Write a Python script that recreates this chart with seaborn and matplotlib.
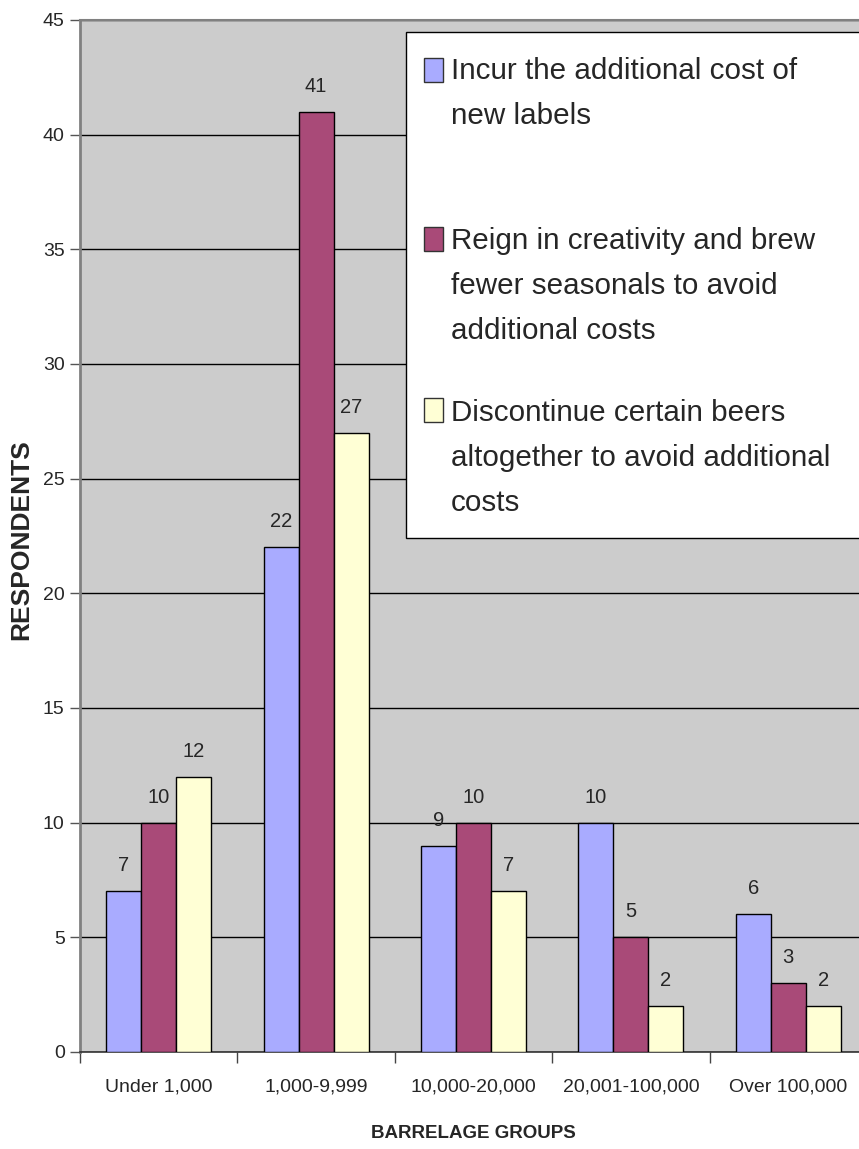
import matplotlib
matplotlib.use("Agg")
import matplotlib.pyplot as plt
from matplotlib import font_manager
from matplotlib.patches import Rectangle
import seaborn as sns
import pandas as pd

# --- dati ---
groups = ["Under 1,000", "1,000-9,999", "10,000-20,000", "20,001-100,000", "Over 100,000"]
responses = [
    "Incur the additional cost of\nnew labels",
    "Reign in creativity and brew\nfewer seasonals to avoid\nadditional costs",
    "Discontinue certain beers\naltogether to avoid additional\ncosts",
]
incur = [7, 22, 9, 10, 6]
reign = [10, 41, 10, 5, 3]
discontinue = [12, 27, 7, 2, 2]
bar_colors = ["#A9ABFF", "#A94A78", "#FFFFD5"]
y_ticks = list(range(0, 46, 5))


def pick_font(names):
    for n in names:
        try:
            font_manager.findfont(n, fallback_to_default=False)
            return n
        except ValueError:
            pass
    return "DejaVu Sans"


sns.set_style("ticks")
FONT = pick_font(["Liberation Sans", "Arial"])
plt.rcParams["font.family"] = [FONT, "DejaVu Sans"]

df = pd.DataFrame({
    "group": groups * 3,
    "response": [responses[0]] * 5 + [responses[1]] * 5 + [responses[2]] * 5,
    "value": incur + reign + discontinue,
})

W, H = 859, 1149
fig = plt.figure(figsize=(W / 100, H / 100), dpi=100, facecolor="white")
ax = fig.add_axes([80 / W, 1 - 1052 / H, 787 / W, 1032 / H])

sns.barplot(data=df, x="group", y="value", hue="response", order=groups,
            hue_order=responses, palette=bar_colors, saturation=1,
            width=0.667, gap=0, edgecolor="black", linewidth=1,
            legend=False, ax=ax, zorder=3)

ax.set_facecolor("#CCCCCC")
ax.set_xlim(-0.5, 4.5)
ax.set_ylim(0, 45)
ax.set_yticks(y_ticks)
ax.yaxis.grid(True, color="black", linewidth=1)
ax.xaxis.grid(False)
ax.set_axisbelow(True)
ax.set_xlabel("")
ax.set_ylabel("")

ax.set_xticks(range(len(groups)))
ax.set_xticklabels(groups)
ax.set_xticks([i - 0.5 for i in range(len(groups) + 1)], minor=True)
ax.tick_params(axis="x", which="major", length=0, pad=19, labelsize=14)
ax.tick_params(axis="x", which="minor", length=8, width=1, color="#444444")
ax.tick_params(axis="y", length=7, width=1, color="#555555", pad=4, labelsize=14)

ax.spines["left"].set_color("#808080")
ax.spines["left"].set_linewidth(2)
ax.spines["top"].set_color("#808080")
ax.spines["top"].set_linewidth(1.5)
ax.spines["bottom"].set_color("#333333")
ax.spines["bottom"].set_linewidth(1.2)
ax.spines["right"].set_visible(False)

for cont in ax.containers:
    ax.bar_label(cont, fmt="%d", padding=11.5, fontsize=14.5)

# titoli assi
fig.text(473 / W, 1 - 1133 / H, "BARRELAGE GROUPS", ha="center", va="center",
         fontsize=13.5, fontweight="bold")
fig.text(21 / W, 1 - 540 / H, "RESPONDENTS", ha="center", va="center",
         rotation=90, fontsize=19, fontweight="bold")

# legenda disegnata a mano (stile Excel)
fig.add_artist(Rectangle((406 / W, 1 - 538 / H), (880 - 406) / W, (538 - 32) / H,
                         transform=fig.transFigure, facecolor="white",
                         edgecolor="black", linewidth=1, zorder=4))
handle_tops = [58, 227, 398]
text_tops = [57, 227, 399]
for lab, col, ht, tt in zip(responses, bar_colors, handle_tops, text_tops):
    fig.add_artist(Rectangle((424 / W, 1 - (ht + 24) / H), 19 / W, 24 / H,
                             transform=fig.transFigure, facecolor=col,
                             edgecolor="#333333", linewidth=1, zorder=5))
    fig.text(451 / W, 1 - tt / H, lab, ha="left", va="top",
             fontsize=21.3, linespacing=1.78, zorder=6)

fig.savefig("out.png", dpi=100)
plt.close(fig)
